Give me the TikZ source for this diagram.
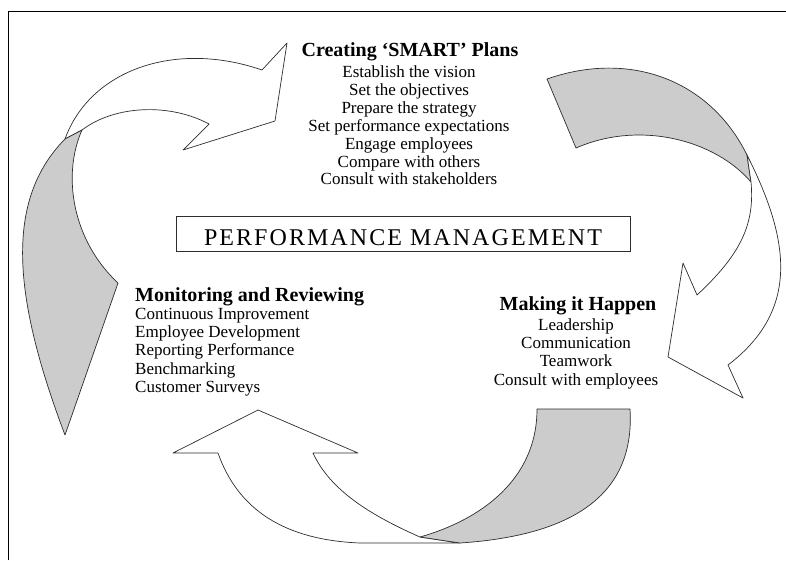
\documentclass[tikz,border=0pt]{standalone}
\usepackage{fontspec}
\setmainfont{Liberation Serif}
\definecolor{fillgrey}{RGB}{204,204,204}
\definecolor{edge}{RGB}{45,45,45}
\begin{document}
\begin{tikzpicture}[x=1pt,y=-1pt,
  shapeedge/.style={draw=edge, line width=0.7pt, line join=round},
  item/.style={font=\fontsize{17}{18}\selectfont, inner sep=0pt},
  head/.style={font=\bfseries\fontsize{20}{22}\selectfont, inner sep=0pt},
  titletext/.style={font=\fontsize{24}{26}\selectfont\addfontfeature{LetterSpace=8.6}, inner sep=0pt},
  framebox/.style={draw=edge, line width=0.8pt, minimum width=454pt, minimum height=35.5pt, inner sep=0pt}]
\useasboundingbox (0,0) rectangle (786,560);
% outer frame (only top and left visible)
\draw[line width=0.9pt, black] (8,560) -- (8,11) -- (786,11);

% top-left white arrow
\filldraw[shapeedge, fill=white] (65,139) .. controls (90,70) and (175,40) .. (262,70) -- (287,43) -- (275,121) -- (183,150) -- (209,124) .. controls (170,103) and (115,105) .. (82,130) -- cycle;
% left grey part
\filldraw[shapeedge, fill=fillgrey] (82,130) -- (65,139) .. controls (5,200) and (12,295) .. (65,435) -- (118,283) .. controls (72,240) and (62,175) .. (82,130) -- cycle;

% top-right grey part
\filldraw[shapeedge, fill=fillgrey] (547,79) .. controls (630,50) and (710,80) .. (747,155) -- (751,182) .. controls (715,140) and (640,120) .. (576,148) -- cycle;
% right white arrow
\filldraw[shapeedge, fill=white] (747,155) .. controls (790,240) and (800,310) .. (728,365) -- (743,398) -- (668,357) -- (683,263) -- (697,295) .. controls (740,255) and (755,225) .. (751,182) -- cycle;

% bottom-left white arrow
\filldraw[shapeedge, fill=white] (258,410) -- (358,453) -- (313,453) .. controls (330,490) and (370,515) .. (420,537) -- (460,543) -- (360,543) .. controls (285,540) and (238,510) .. (218,453) -- (173,453) -- cycle;
% bottom grey part
\filldraw[shapeedge, fill=fillgrey] (537,409) -- (630,409) .. controls (635,490) and (580,535) .. (460,543) -- (420,537) .. controls (480,520) and (537,480) .. (537,409) -- cycle;

% central title
\node[framebox] (pmbox) at (403,234) {};
\node[titletext, anchor=base] (pm) at (403,245.5) {PERFORMANCE MANAGEMENT};

% Creating SMART plans
\node[head, anchor=base] (planhead) at (410,56.5) {Creating `SMART' Plans};
\foreach \t [count=\i] in {Establish the vision, Set the objectives, Prepare the strategy, Set performance expectations, Engage employees, Compare with others, Consult with stakeholders}
  \node[item, anchor=base] (plan\i) at (409,{77.5+17.9*(\i-1)}) {\t};

% Monitoring and reviewing
\node[head, anchor=base west] (monhead) at (135,301) {Monitoring and Reviewing};
\foreach \t [count=\i] in {Continuous Improvement, Employee Development, Reporting Performance, Benchmarking, Customer Surveys}
  \node[item, anchor=base west] (mon\i) at (135,{319+18.4*(\i-1)}) {\t};

% Making it happen
\node[head, anchor=base] (makehead) at (578,310.5) {Making it Happen};
\foreach \t [count=\i] in {Leadership, Communication, Teamwork, Consult with employees}
  \node[item, anchor=base] (make\i) at (576,{330.7+18.1*(\i-1)}) {\t};
\end{tikzpicture}
\end{document}
